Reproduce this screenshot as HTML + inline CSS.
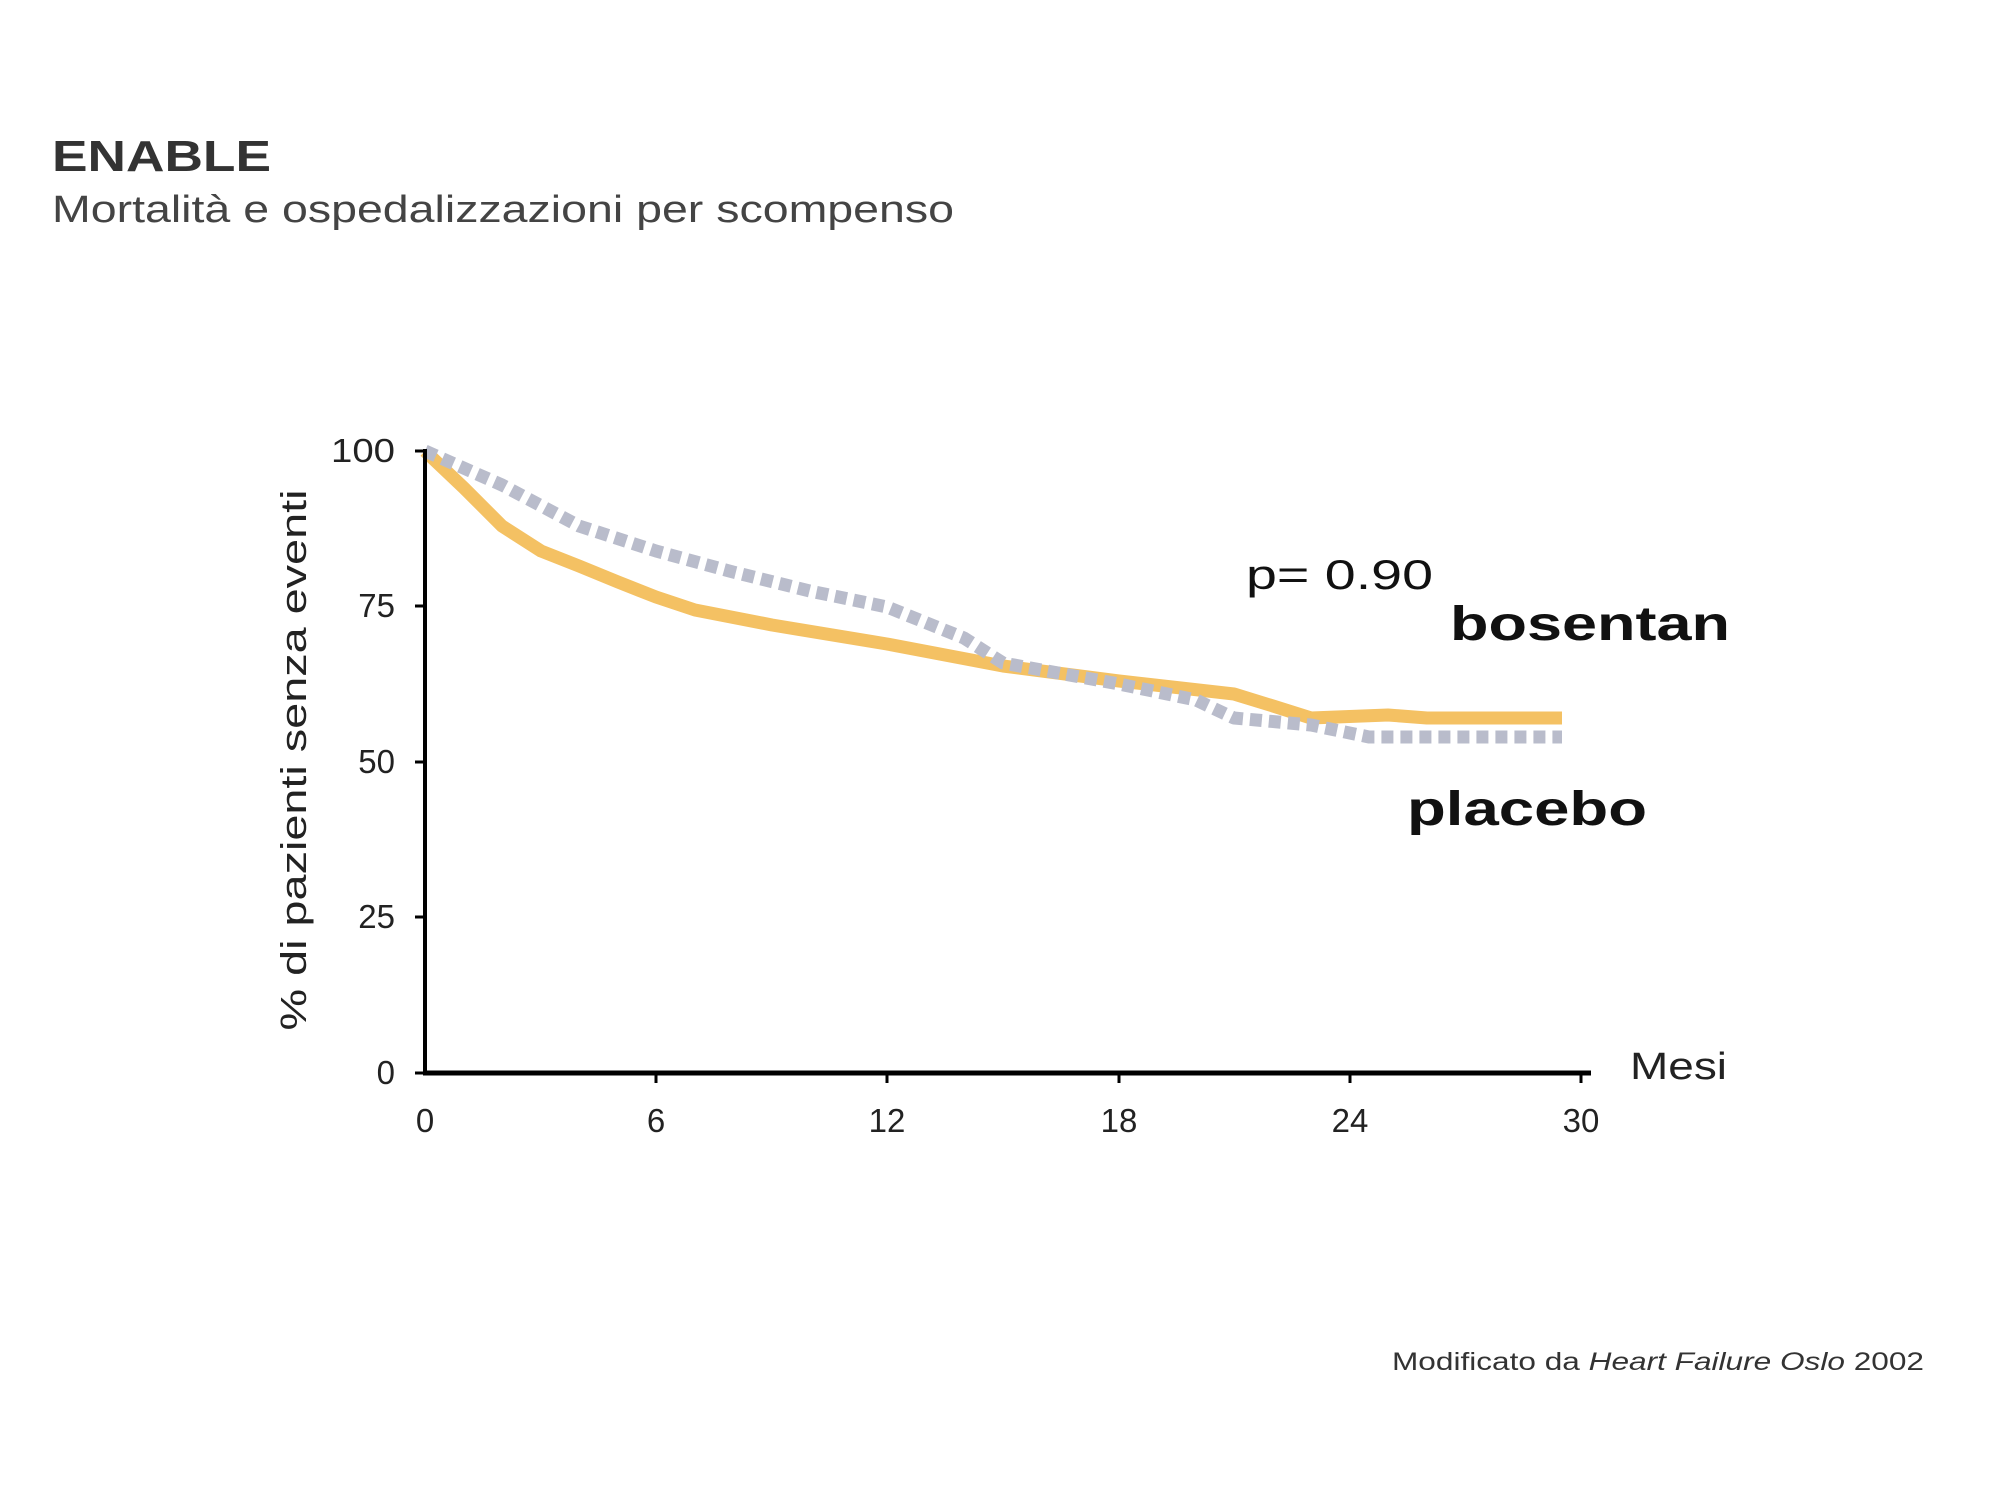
<!DOCTYPE html>
<html><head><meta charset="utf-8"><style>
body{margin:0;background:#fff;}
svg{display:block;}
</style></head><body>
<svg width="2000" height="1500" viewBox="0 0 2000 1500" xmlns="http://www.w3.org/2000/svg" font-family="Liberation Sans, sans-serif">
<rect width="2000" height="1500" fill="#fff"/>
<text x="52" y="171" font-size="44" font-weight="bold" fill="#333" textLength="219" lengthAdjust="spacingAndGlyphs">ENABLE</text>
<text x="52" y="222" font-size="38" fill="#444" textLength="902" lengthAdjust="spacingAndGlyphs">Mortalità e ospedalizzazioni per scompenso</text>

<!-- curves -->
<polyline fill="none" stroke="#f4c163" stroke-width="13" stroke-linejoin="round" points="425,451 464,488 502,526 541,551 579,566 618,582 656,597 695,610 772,625 887,644 1003,666 1119,681 1234,694 1273,706 1311,718 1388,715 1427,718 1562,718"/>
<polyline fill="none" stroke="#b9bccb" stroke-width="13" stroke-dasharray="12 7" stroke-linejoin="round" points="425,451 502,485 579,526 656,551 733,572 810,591 887,607 964,638 1003,663 1119,684 1196,700 1234,718 1311,725 1369,737 1562,737"/>

<!-- axes -->
<line x1="425" y1="449" x2="425" y2="1075" stroke="#000" stroke-width="4"/>
<line x1="423" y1="1073" x2="1591" y2="1073" stroke="#000" stroke-width="5"/>
<g stroke="#000" stroke-width="3">
<line x1="415" y1="451" x2="425" y2="451"/><line x1="415" y1="606" x2="425" y2="606"/><line x1="415" y1="762" x2="425" y2="762"/><line x1="415" y1="917" x2="425" y2="917"/><line x1="415" y1="1073" x2="425" y2="1073"/>
<line x1="656" y1="1073" x2="656" y2="1083"/><line x1="887" y1="1073" x2="887" y2="1083"/><line x1="1119" y1="1073" x2="1119" y2="1083"/><line x1="1350" y1="1073" x2="1350" y2="1083"/><line x1="1581" y1="1073" x2="1581" y2="1083"/>
</g>
<g font-size="33" fill="#222" text-anchor="end">
<text x="395" y="462" textLength="64" lengthAdjust="spacingAndGlyphs">100</text><text x="395" y="617">75</text><text x="395" y="773">50</text><text x="395" y="928">25</text><text x="395" y="1084">0</text>
</g>
<g font-size="33" fill="#222" text-anchor="middle">
<text x="425" y="1132">0</text><text x="656" y="1132">6</text><text x="887" y="1132">12</text><text x="1119" y="1132">18</text><text x="1350" y="1132">24</text><text x="1581" y="1132">30</text>
</g>
<text x="1630" y="1079" font-size="38" fill="#222" textLength="97" lengthAdjust="spacingAndGlyphs">Mesi</text>
<text transform="translate(306,760) rotate(-90)" text-anchor="middle" font-size="36" fill="#222" textLength="541" lengthAdjust="spacingAndGlyphs">% di pazienti senza eventi</text>
<text x="1246" y="589" font-size="42" fill="#111" textLength="187" lengthAdjust="spacingAndGlyphs">p= 0.90</text>
<text x="1450" y="640" font-size="48" font-weight="bold" fill="#111" textLength="280" lengthAdjust="spacingAndGlyphs">bosentan</text>
<text x="1407" y="825" font-size="48" font-weight="bold" fill="#111" textLength="240" lengthAdjust="spacingAndGlyphs">placebo</text>
<text x="1392" y="1370" font-size="25" fill="#333" textLength="532" lengthAdjust="spacingAndGlyphs">Modificato da <tspan font-style="italic">Heart Failure Oslo</tspan> 2002</text>
</svg>
</body></html>
